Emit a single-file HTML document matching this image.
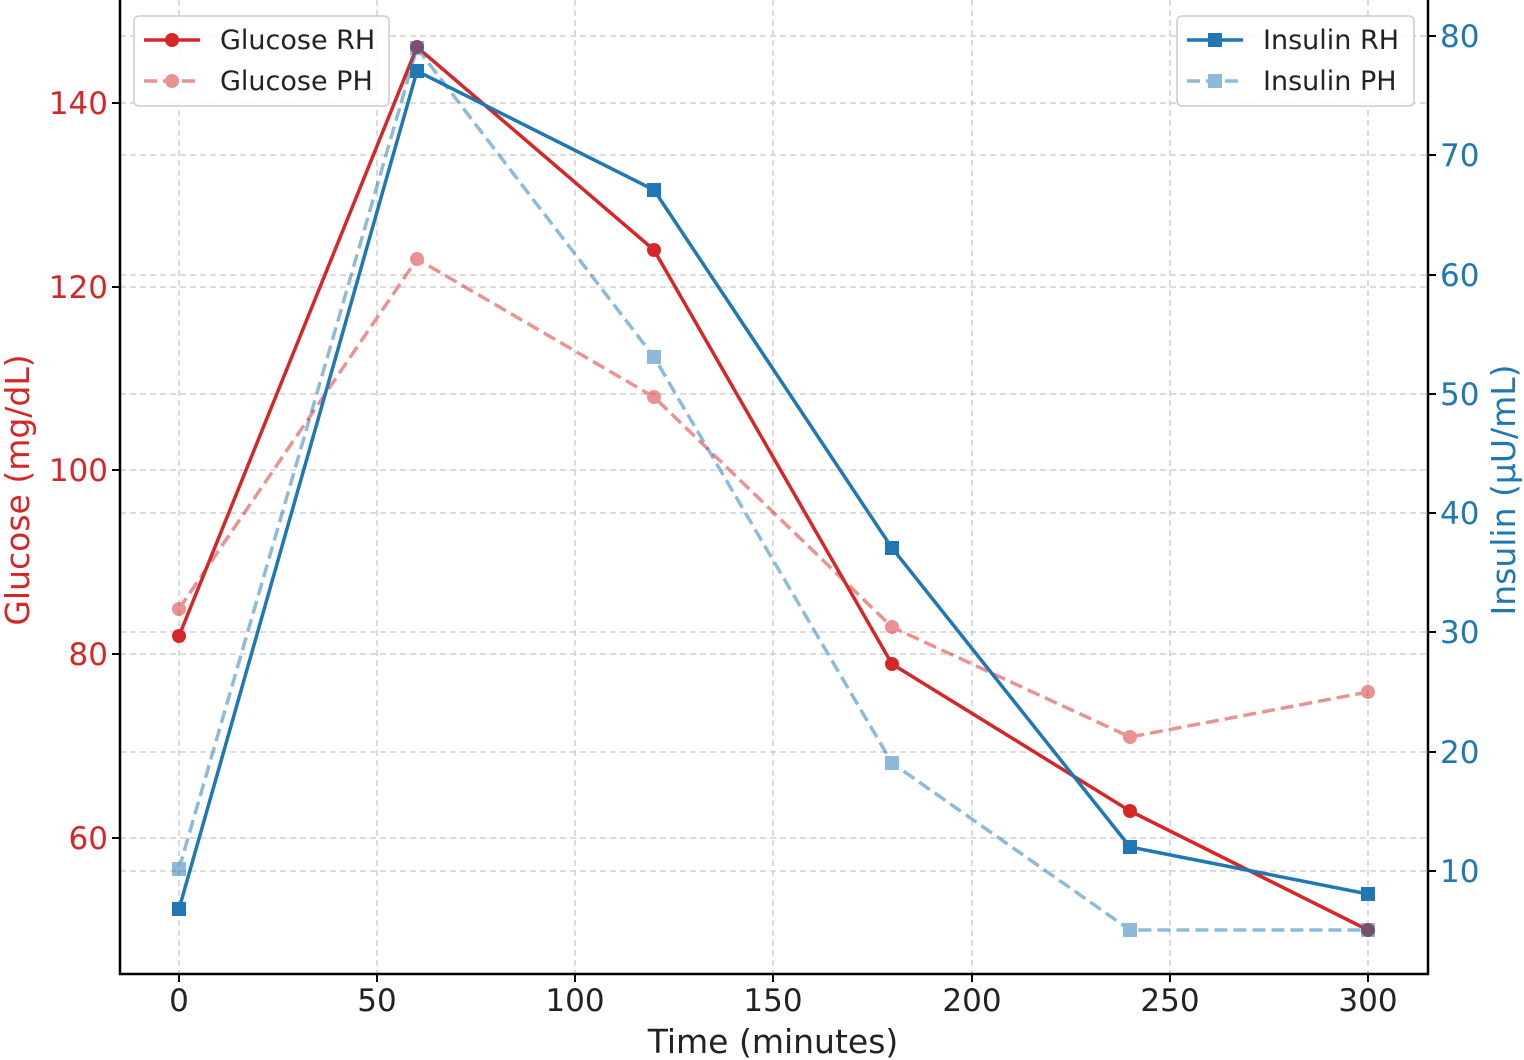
<!DOCTYPE html>
<html><head><meta charset="utf-8"><style>body{margin:0;background:#fff}svg{display:block}text{font-family:"DejaVu Sans","Liberation Sans",sans-serif}</style></head>
<body>
<svg width="1524" height="1060" viewBox="0 0 1524 1060" xmlns="http://www.w3.org/2000/svg">
<g stroke="#c8c8c8" stroke-width="1.3" stroke-dasharray="6,4" fill="none">
<line x1="179" y1="0" x2="179" y2="974"/><line x1="377" y1="0" x2="377" y2="974"/><line x1="575" y1="0" x2="575" y2="974"/><line x1="773" y1="0" x2="773" y2="974"/><line x1="972" y1="0" x2="972" y2="974"/><line x1="1170" y1="0" x2="1170" y2="974"/><line x1="1368" y1="0" x2="1368" y2="974"/>
<line x1="120" y1="103" x2="1428" y2="103"/><line x1="120" y1="287" x2="1428" y2="287"/><line x1="120" y1="470" x2="1428" y2="470"/><line x1="120" y1="654" x2="1428" y2="654"/><line x1="120" y1="838" x2="1428" y2="838"/>
<line x1="120" y1="36" x2="1428" y2="36"/><line x1="120" y1="155" x2="1428" y2="155"/><line x1="120" y1="275" x2="1428" y2="275"/><line x1="120" y1="394" x2="1428" y2="394"/><line x1="120" y1="513" x2="1428" y2="513"/><line x1="120" y1="632" x2="1428" y2="632"/><line x1="120" y1="752" x2="1428" y2="752"/><line x1="120" y1="871" x2="1428" y2="871"/>
</g>
<g stroke="#000" stroke-width="2.5"><line x1="120" y1="0" x2="120" y2="975"/><line x1="119" y1="974" x2="1429" y2="974"/><line x1="1428" y1="0" x2="1428" y2="975"/></g>
<g stroke="#000" stroke-width="2"><line x1="179" y1="974" x2="179" y2="982"/><line x1="377" y1="974" x2="377" y2="982"/><line x1="575" y1="974" x2="575" y2="982"/><line x1="773" y1="974" x2="773" y2="982"/><line x1="972" y1="974" x2="972" y2="982"/><line x1="1170" y1="974" x2="1170" y2="982"/><line x1="1368" y1="974" x2="1368" y2="982"/>
<line x1="112" y1="103" x2="120" y2="103"/><line x1="112" y1="287" x2="120" y2="287"/><line x1="112" y1="470" x2="120" y2="470"/><line x1="112" y1="654" x2="120" y2="654"/><line x1="112" y1="838" x2="120" y2="838"/>
<line x1="1428" y1="36" x2="1436" y2="36"/><line x1="1428" y1="155" x2="1436" y2="155"/><line x1="1428" y1="275" x2="1436" y2="275"/><line x1="1428" y1="394" x2="1436" y2="394"/><line x1="1428" y1="513" x2="1436" y2="513"/><line x1="1428" y1="632" x2="1436" y2="632"/><line x1="1428" y1="752" x2="1436" y2="752"/><line x1="1428" y1="871" x2="1436" y2="871"/></g>
<g font-size="31" fill="#222" text-anchor="middle"><text x="179" y="1011">0</text><text x="377" y="1011">50</text><text x="575" y="1011">100</text><text x="773" y="1011">150</text><text x="972" y="1011">200</text><text x="1170" y="1011">250</text><text x="1368" y="1011">300</text></g>
<text x="773" y="1053" font-size="33" fill="#222" text-anchor="middle">Time (minutes)</text>
<g font-size="31" fill="#d62728" text-anchor="end"><text x="108" y="114">140</text><text x="108" y="298">120</text><text x="108" y="481">100</text><text x="108" y="665">80</text><text x="108" y="849">60</text></g>
<text transform="translate(29,490) rotate(-90)" font-size="33" fill="#d62728" text-anchor="middle">Glucose (mg/dL)</text>
<g font-size="31" fill="#1f77b4"><text x="1440" y="47">80</text><text x="1440" y="166">70</text><text x="1440" y="286">60</text><text x="1440" y="405">50</text><text x="1440" y="524">40</text><text x="1440" y="643">30</text><text x="1440" y="763">20</text><text x="1440" y="882">10</text></g>
<text transform="translate(1515,490) rotate(-90)" font-size="33" fill="#1f77b4" text-anchor="middle">Insulin (μU/mL)</text>
<g opacity="0.5" fill="#d62728"><polyline fill="none" stroke="#d62728" stroke-width="3.5" stroke-dasharray="13,6" points="179,609 417,259 654,397 892,627 1130,737 1368,692"/>
<circle cx="179" cy="609" r="7"/><circle cx="417" cy="259" r="7"/><circle cx="654" cy="397" r="7"/><circle cx="892" cy="627" r="7"/><circle cx="1130" cy="737" r="7"/><circle cx="1368" cy="692" r="7"/></g>
<g fill="#d62728"><polyline fill="none" stroke="#d62728" stroke-width="3.5" points="179,636 417,47 654,250 892,664 1130,811 1368,930"/>
<circle cx="179" cy="636" r="7"/><circle cx="417" cy="47" r="7"/><circle cx="654" cy="250" r="7"/><circle cx="892" cy="664" r="7"/><circle cx="1130" cy="811" r="7"/><circle cx="1368" cy="930" r="7"/></g>
<g opacity="0.5" fill="#1f77b4"><polyline fill="none" stroke="#1f77b4" stroke-width="3.5" stroke-dasharray="13,6" points="179,869 417,48 654,357 892,763 1130,930 1368,930"/>
<rect x="172" y="862" width="14" height="14"/><rect x="410" y="41" width="14" height="14"/><rect x="647" y="350" width="14" height="14"/><rect x="885" y="756" width="14" height="14"/><rect x="1123" y="923" width="14" height="14"/><rect x="1361" y="923" width="14" height="14"/></g>
<g fill="#1f77b4"><polyline fill="none" stroke="#1f77b4" stroke-width="3.5" points="179,909 417,71 654,190 892,548 1130,847 1368,894"/>
<rect x="172" y="902" width="14" height="14"/><rect x="410" y="64" width="14" height="14"/><rect x="647" y="183" width="14" height="14"/><rect x="885" y="541" width="14" height="14"/><rect x="1123" y="840" width="14" height="14"/><rect x="1361" y="887" width="14" height="14"/></g>
<rect x="134" y="16" width="255" height="90" rx="5" fill="#fff" fill-opacity="0.85" stroke="#ccc" stroke-width="1.5"/>
<line x1="144" y1="40" x2="200" y2="40" stroke="#d62728" stroke-width="3.5"/><circle cx="172" cy="40" r="7" fill="#d62728"/>
<g opacity="0.5"><line x1="144" y1="81" x2="200" y2="81" stroke="#d62728" stroke-width="3.5" stroke-dasharray="13,6"/><circle cx="172" cy="81" r="7" fill="#d62728"/></g>
<g font-size="27" fill="#222"><text x="220" y="49">Glucose RH</text><text x="220" y="90">Glucose PH</text></g>
<rect x="1177" y="16" width="237" height="90" rx="5" fill="#fff" fill-opacity="0.85" stroke="#ccc" stroke-width="1.5"/>
<line x1="1187" y1="40" x2="1243" y2="40" stroke="#1f77b4" stroke-width="3.5"/><rect x="1208" y="33" width="14" height="14" fill="#1f77b4"/>
<g opacity="0.5"><line x1="1187" y1="81" x2="1243" y2="81" stroke="#1f77b4" stroke-width="3.5" stroke-dasharray="13,6"/><rect x="1208" y="74" width="14" height="14" fill="#1f77b4"/></g>
<g font-size="27" fill="#222"><text x="1263" y="49">Insulin RH</text><text x="1263" y="90">Insulin PH</text></g>
</svg>
</body></html>
